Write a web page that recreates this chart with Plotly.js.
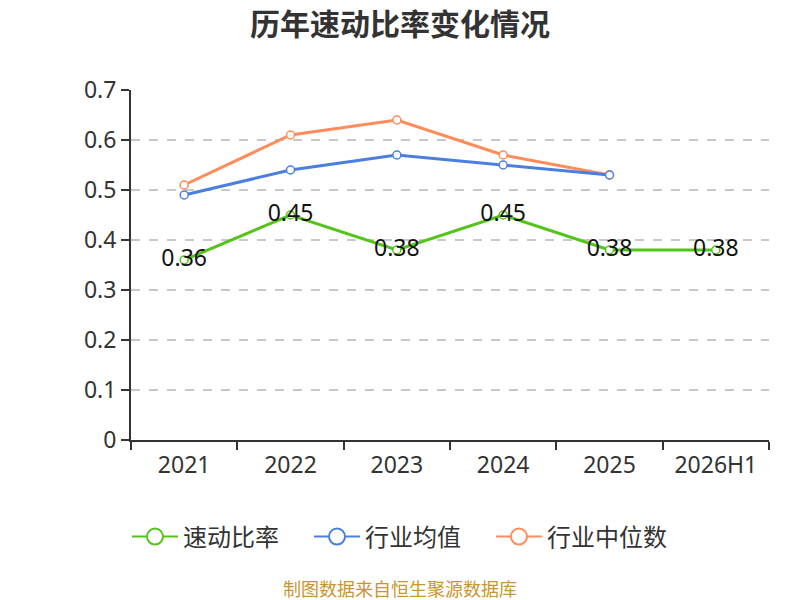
<!DOCTYPE html>
<html>
<head>
<meta charset="utf-8">
<script src="https://cdn.plot.ly/plotly-3.0.1.min.js"></script>
<style>html,body{margin:0;padding:0;background:#fff;}#chart{width:800px;height:600px;}</style>
</head>
<body>
<div id="chart"></div>
<script>
var categories = ['2021', '2022', '2023', '2024', '2025', '2026H1'];
var quickRatio = [0.36, 0.45, 0.38, 0.45, 0.38, 0.38];
var industryMean = [0.49, 0.54, 0.57, 0.55, 0.53, null];
var industryMedian = [0.51, 0.61, 0.64, 0.57, 0.53, null];
var seriesNames = ['速动比率', '行业均值', '行业中位数'];
var colors = ['#52c41a', '#4a7fe0', '#ff8c5a'];
var yTicks = [0, 0.1, 0.2, 0.3, 0.4, 0.5, 0.6, 0.7];
var yTickText = ['0', '0.1', '0.2', '0.3', '0.4', '0.5', '0.6', '0.7'];

var FONT = 'Noto Sans, Noto Sans CJK SC, sans-serif';
var CJK = 'Noto Sans CJK SC, sans-serif';

function lineTrace(y, i, withText) {
  var t = {
    x: categories, y: y, type: 'scatter',
    mode: withText ? 'lines+markers+text' : 'lines+markers',
    name: seriesNames[i], showlegend: false,
    line: {color: colors[i], width: 3},
    marker: {size: 8, color: '#ffffff', line: {color: colors[i], width: 1.5}},
    hoverinfo: 'skip', cliponaxis: false
  };
  if (withText) {
    t.text = y.map(function (v) { return v.toFixed(2); });
    t.textposition = 'middle center';
    t.textfont = {family: FONT, size: 23, color: '#111'};
  }
  return t;
}
function legendTrace(i) {
  return {
    x: [null], y: [null], type: 'scatter', mode: 'lines+markers',
    name: seriesNames[i], showlegend: true,
    line: {color: colors[i], width: 2},
    marker: {size: 20, color: '#ffffff', line: {color: colors[i], width: 2}}
  };
}

var data = [
  lineTrace(industryMedian, 2, false),
  lineTrace(industryMean, 1, false),
  lineTrace(quickRatio, 0, true),
  legendTrace(0), legendTrace(1), legendTrace(2)
];

var layout = {
  width: 800, height: 600,
  margin: {l: 131, r: 31, t: 90, b: 160},
  paper_bgcolor: '#fff', plot_bgcolor: '#fff',
  font: {family: FONT, color: '#333'},
  title: {
    text: '<b>历年速动比率变化情况</b>',
    font: {family: CJK, size: 30, color: '#333'},
    x: 0.5, xanchor: 'center', y: 0.96, yanchor: 'middle'
  },
  xaxis: {
    type: 'category', categoryorder: 'array', categoryarray: categories,
    range: [-0.5, 5.5],
    showline: true, linecolor: '#333', linewidth: 2,
    ticks: 'outside', tickson: 'boundaries', ticklen: 8, tickwidth: 2, tickcolor: '#333',
    tickfont: {family: FONT, size: 23, color: '#333'},
    ticklabelstandoff: 3,
    showgrid: false, zeroline: false, fixedrange: true
  },
  yaxis: {
    range: [0, 0.7],
    tickvals: yTicks, ticktext: yTickText,
    showline: true, linecolor: '#333', linewidth: 2,
    ticks: 'outside', ticklen: 8, tickwidth: 2, tickcolor: '#333',
    tickfont: {family: FONT, size: 23, color: '#333'},
    showgrid: true, gridcolor: '#c8c8c8', griddash: 'dash', gridwidth: 1.5,
    zeroline: false, fixedrange: true
  },
  legend: {
    orientation: 'h', x: 0.5 - 50 / 638, xanchor: 'center', y: -0.277, yanchor: 'middle',
    font: {family: CJK, size: 24, color: '#333'},
    itemwidth: 46, entrywidth: 121, tracegroupgap: 0
  },
  annotations: [{
    text: '制图数据来自恒生聚源数据库', showarrow: false,
    xref: 'paper', yref: 'paper', x: (400 - 131) / 638, xanchor: 'center',
    y: (440 - 588) / 350, yanchor: 'middle',
    font: {family: CJK, size: 18, color: '#c8962e'}
  }],
  showlegend: true
};

Plotly.newPlot('chart', data, layout, {displayModeBar: false, staticPlot: true});
</script>
</body>
</html>
